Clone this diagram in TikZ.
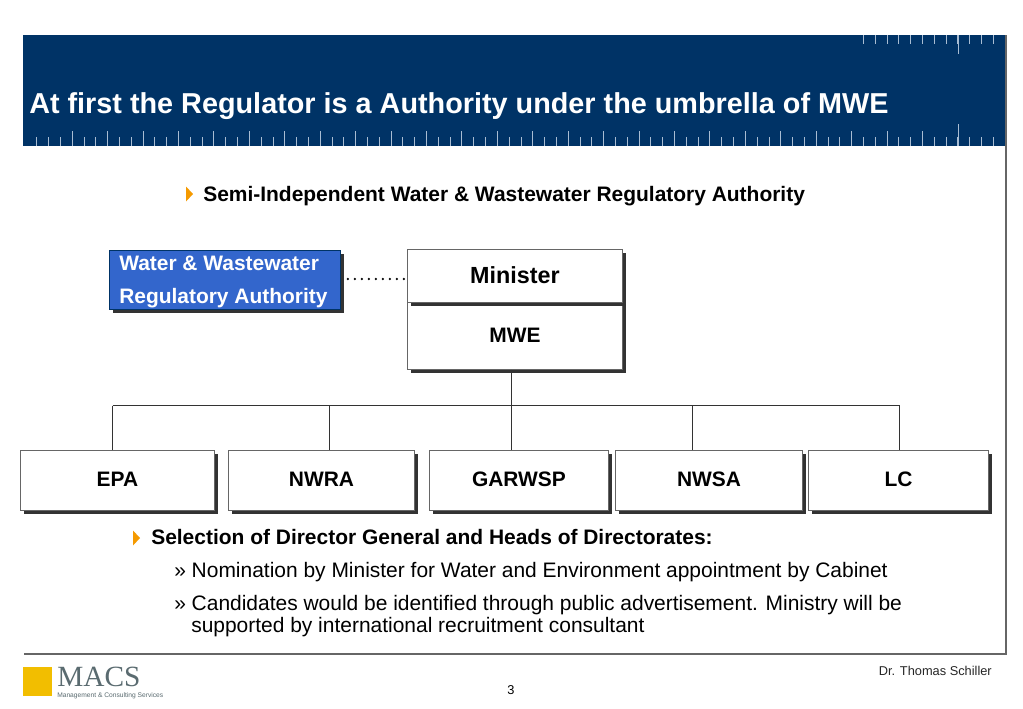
\documentclass[tikz,border=0pt]{standalone}
\usepackage{fontspec}
\setmainfont{Liberation Sans}
\newfontfamily\logofont{Liberation Serif}
\usetikzlibrary{shadows}
\definecolor{navy}{HTML}{003366}
\definecolor{tick}{HTML}{A9BDD3}
\definecolor{bluebox}{HTML}{3366CC}
\definecolor{shade}{HTML}{333333}
\definecolor{frameln}{HTML}{666666}
\definecolor{gold}{HTML}{F2BE00}
\definecolor{bul}{HTML}{F59A00}
\definecolor{logogray}{HTML}{5A6B70}
\tikzset{
  x=0.75pt,y=-0.75pt,
  orgbox/.style={draw=frameln,line width=0.7pt,fill=white,rectangle,inner sep=0pt,anchor=north west,font=\bfseries\fontsize{15.7}{18}\selectfont,align=center,text height=11.3pt,text depth=1.6pt,
    drop shadow={shadow xshift=2.7pt,shadow yshift=-2.7pt,fill=shade,opacity=1}},
  link/.style={draw=black!80,line width=0.6pt},
  ticks/.style={draw=tick,line width=0.6pt},
  txt/.style={anchor=base west,inner sep=0pt,font=\fontsize{15.72}{18}\selectfont},
  btxt/.style={anchor=base west,inner sep=0pt,font=\bfseries\fontsize{15.72}{18}\selectfont},
  wtxt/.style={anchor=base west,inner sep=0pt,text=white,font=\bfseries\fontsize{15.7}{18}\selectfont},
  bullet/.style={fill=bul,draw=none},
}
\newcommand{\mkbox}[6]{\node[orgbox,minimum width=#4*0.75pt,minimum height=#5*0.75pt] (#1) at (#2,#3) {#6};}
\begin{document}
\begin{tikzpicture}
\useasboundingbox (0,0) rectangle (1023,708);
\fill[white] (0,0) rectangle (1023,708);
% header
\fill[navy] (23,35) rectangle (1005,146);
\foreach \i in {0,...,81} {
  \pgfmathsetmacro{\xx}{36.7+\i*11.81}
  \draw[ticks] (\xx,137) -- (\xx,146);
}
\foreach \i in {1,...,25} {
  \pgfmathsetmacro{\xx}{36.7+\i*35.43}
  \draw[ticks] (\xx,131) -- (\xx,146);
}
\draw[ticks] (957.9,124) -- (957.9,146);
\foreach \i in {0,...,11} {
  \pgfmathsetmacro{\xx}{863.4+\i*11.81}
  \draw[ticks] (\xx,35) -- (\xx,44);
}
\draw[ticks] (957.9,35) -- (957.9,54);
\node[anchor=base west,inner sep=0pt,text=white,font=\bfseries\fontsize{21.6}{25}\selectfont] (title) at (29,113) {At first the Regulator is a Authority under the umbrella of MWE};
% frame
\draw[frameln,line width=0.9pt] (1006,35) -- (1006,654) -- (24,654);
% subtitle
\fill[bullet] (186,186.5) -- (193,194) -- (186,201.5) -- cycle;
\node[btxt] (sub) at (203,201) {Semi-Independent Water \& Wastewater Regulatory Authority};
% boxes
\node[orgbox,minimum width=231*0.75pt,minimum height=59*0.75pt,fill=bluebox,draw=navy] (wwra) at (109,250) {};
\node[wtxt] (wwra1) at (119,270.5) {Water \& Wastewater};
\node[wtxt] (wwra2) at (119,303.5) {Regulatory Authority};
\mkbox{mwe}{407}{302}{215}{67}{MWE}
\node[orgbox,minimum width=215*0.75pt,minimum height=53*0.75pt,text height=12.6pt,text depth=0.8pt,font=\bfseries\fontsize{17.5}{20}\selectfont] (minister) at (407,249) {Minister};
\mkbox{epa}{20}{450}{194}{60}{EPA}
\mkbox{nwra}{228}{450}{186}{60}{NWRA}
\mkbox{garwsp}{429}{450}{179}{60}{GARWSP}
\mkbox{nwsa}{615}{450}{187}{60}{NWSA}
\mkbox{lc}{808}{450}{180}{60}{LC}
% connectors
\coordinate (busl) at (112.5,405.5);
\coordinate (busr) at (900,405.5);
\draw[link] (busl) -- (busr);
\draw[link] (mwe.south -| 511.5,0) -- (511.5,405.5);
\draw[link] (busl) -- (busl |- epa.north);
\draw[link] (329.5,405.5) -- (329.5,450);
\draw[link] (511.5,405.5) -- (511.5,450);
\draw[link] (692.5,405.5) -- (692.5,450);
\draw[link] (899.5,405.5) -- (899.5,450);
\draw[line width=1.9pt,line cap=round,dash pattern=on 0pt off 5.25pt,black] (wwra.east |- 0,279) ++(7,0) -- (minister.west |- 0,279);
% lower text
\fill[bullet] (133,530.5) -- (140,538) -- (133,545.5) -- cycle;
\node[btxt] (sel) at (151,544) {Selection of Director General and Heads of Directorates:};
\node[txt] (r1) at (174,577) {» Nomination by Minister for Water and Environment appointment by Cabinet};
\node[txt] (r2) at (174,610) {» Candidates would be identified through public advertisement. Ministry will be};
\node[txt] (r3) at (191,632) {supported by international recruitment consultant};
% footer
\fill[gold] (23,667) rectangle (52,696);
\node[anchor=base west,inner sep=0pt,text=logogray,font=\logofont\fontsize{22}{24}\selectfont] (macs) at (57,686.5) {MACS};
\node[anchor=base west,inner sep=0pt,text=logogray,font=\fontsize{5}{6}\selectfont] (macs2) at (57,697.5) {Management \& Consulting Services};
\node[anchor=base east,inner sep=0pt,font=\fontsize{9.6}{11}\selectfont,text=black!85] (auth) at (992,675) {Dr. Thomas Schiller};
\node[anchor=base,inner sep=0pt,font=\fontsize{9.6}{11}\selectfont] (pg) at (511,694) {3};
\end{tikzpicture}
\end{document}
